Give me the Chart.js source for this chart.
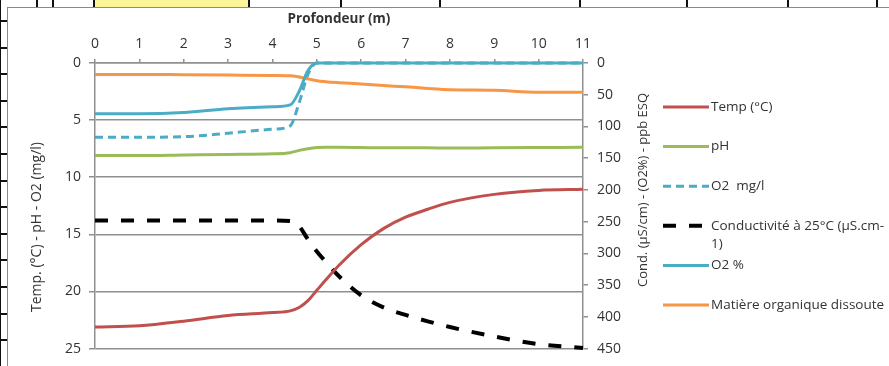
<!DOCTYPE html>
<html>
<head>
<meta charset="utf-8">
<script src="https://cdn.jsdelivr.net/npm/chart.js@4"></script>
<style>
  body { margin: 0; background: #fff; }
  #wrap { position: relative; width: 889px; height: 366px; overflow: hidden; background: #fff; }
  #chart { position: absolute; left: 0; top: 0; }
  .v { position: absolute; top: 0; height: 7px; width: 2px; background: #111; }
  .h { position: absolute; left: 0; width: 7px; height: 2px; background: #111; }
</style>
</head>
<body>
<div id="wrap">
  <canvas id="chart" width="889" height="366"></canvas>
  <!-- bits of the spreadsheet around the chart -->
  <div style="position:absolute;left:93px;top:0;width:155px;height:7px;background:#fbf59a"></div>
  <div style="position:absolute;left:7px;top:7px;right:0;height:1px;background:#8a8a8a"></div>
  <div style="position:absolute;left:7px;top:7px;bottom:0;width:1px;background:#8a8a8a"></div>
  <div style="position:absolute;left:0;top:0;bottom:0;width:1px;background:#111"></div>
  <div id="strips"></div>
</div>
<script>
// depth (m) shared by every series
const depths = [0, 1, 2, 3, 4, 4.4, 4.6, 4.8, 5, 5.2, 5.5, 6, 6.5, 7, 7.5, 8, 9, 10, 11];

// left axis series
const temp = [23.1, 23.0, 22.6, 22.1, 21.85, 21.7, 21.4, 20.8, 19.9, 19.0, 17.7, 15.9, 14.5, 13.5, 12.8, 12.2, 11.5, 11.15, 11.05];
const ph = [8.1, 8.1, 8.05, 8.0, 7.95, 7.85, 7.65, 7.5, 7.4, 7.38, 7.38, 7.4, 7.42, 7.42, 7.42, 7.45, 7.42, 7.4, 7.38];
const o2mg = [6.5, 6.5, 6.45, 6.15, 5.8, 5.5, 3.5, 1.0, 0, 0, 0, 0, 0, 0, 0, 0, 0, 0, 0];

// right axis series
const conductivite = [248, 248, 248, 248, 248, 249, 257, 278, 297, 313, 336, 366, 385, 397, 407, 416, 431, 443, 449];
const o2pct = [80, 80, 78, 72, 69, 66, 45, 12, 0, 0, 0, 0, 0, 0, 0, 0, 0, 0, 0];
const matiere = [18, 18, 18.5, 19, 19.5, 20, 22, 25, 28, 29.5, 31, 33, 35.5, 37.5, 40, 42, 43, 46, 46];

const xTicks = { min: 0, max: 11, step: 1 };
const leftTicks = { min: 0, max: 25, step: 5 };
const rightTicks = { min: 0, max: 450, step: 50 };

const xTitle = 'Profondeur (m)';
const leftTitle = 'Temp. (°C) - pH - O2 (mg/l)';
const rightTitle = 'Cond. (µS/cm) - (O2%) - ppb ESQ';

// left strip ticks of the sheet
const strips = document.getElementById('strips');
for (let y = 20; y < 366; y += 26.6) {
  const d = document.createElement('div'); d.className = 'h'; d.style.top = Math.round(y) + 'px'; strips.appendChild(d);
}
[36, 52, 93, 248, 340, 439, 579, 686, 787, 876].forEach(x => {
  const d = document.createElement('div'); d.className = 'v'; d.style.left = x + 'px'; strips.appendChild(d);
});

const pts = vals => depths.map((d, i) => ({ x: d, y: vals[i] }));
const FONT = '"Open Sans", sans-serif';
const GRID = '#8f8f8f';
const TXT = '#333333';

function line(label, vals, color, axis, dash, width) {
  return {
    label: label,
    data: pts(vals),
    yAxisID: axis,
    borderColor: color,
    backgroundColor: color,
    borderWidth: width || 3,
    borderDash: dash || [],
    pointRadius: 0,
    cubicInterpolationMode: 'monotone',
    clip: false
  };
}

const sideText = {
  id: 'sideText',
  afterDraw(chart) {
    const ctx = chart.ctx;
    const area = chart.chartArea;
    ctx.save();
    ctx.fillStyle = TXT;
    ctx.textAlign = 'center';
    ctx.textBaseline = 'middle';
    ctx.font = '14px ' + FONT;
    ctx.translate(37, 227);
    ctx.rotate(-Math.PI / 2);
    ctx.fillText(leftTitle, 0, 0);
    ctx.restore();

    ctx.save();
    ctx.fillStyle = TXT;
    ctx.textAlign = 'center';
    ctx.textBaseline = 'middle';
    ctx.font = '13px ' + FONT;
    ctx.translate(area.right + 60, 190);
    ctx.rotate(-Math.PI / 2);
    ctx.fillText(rightTitle, 0, 0);
    ctx.restore();

    // legend
    ctx.save();
    chart.data.datasets.forEach((ds, i) => {
      const y = 107 + i * 39.6;
      ctx.beginPath();
      ctx.setLineDash(ds.borderDash);
      ctx.strokeStyle = ds.borderColor;
      ctx.lineWidth = ds.borderWidth;
      ctx.moveTo(663, y);
      ctx.lineTo(709, y);
      ctx.stroke();
      ctx.setLineDash([]);
      ctx.fillStyle = TXT;
      ctx.font = '13.5px ' + FONT;
      ctx.textAlign = 'left';
      ctx.textBaseline = 'middle';
      const parts = Array.isArray(ds.label) ? ds.label : [ds.label];
      parts.forEach((t, k) => ctx.fillText(t, 711, y + k * 18));
    });
    ctx.restore();
  }
};

new Chart(document.getElementById('chart'), {
  type: 'line',
  data: {
    datasets: [
      line('Temp (°C)', temp, '#c0504d', 'y'),
      line('pH', ph, '#9bbb59', 'y'),
      line('O2  mg/l', o2mg, '#4bacc6', 'y', [8, 5]),
      line(['Conductivité à 25°C (µS.cm-', '1)'], conductivite, '#000000', 'y1', [13, 13], 4),
      line('O2 %', o2pct, '#4bacc6', 'y1'),
      line('Matière organique dissoute', matiere, '#f79646', 'y1')
    ]
  },
  options: {
    responsive: false,
    animation: false,
    devicePixelRatio: 1,
    layout: { padding: { left: 0, top: 0, right: 236, bottom: 15 } },
    plugins: { legend: { display: false }, tooltip: { enabled: false } },
    scales: {
      x: {
        type: 'linear',
        position: 'top',
        min: xTicks.min,
        max: xTicks.max,
        ticks: { stepSize: xTicks.step, color: TXT, font: { family: FONT, size: 14 }, padding: 7 },
        grid: { drawOnChartArea: false, color: GRID, lineWidth: 1.5, tickLength: 4 },
        border: { color: GRID, width: 1.5 },
        title: { display: true, text: xTitle, color: TXT, font: { family: FONT, size: 13.5, weight: 'bold' }, padding: { top: 11, bottom: 0 } },
        afterFit: s => { s.height = 63; }
      },
      y: {
        position: 'left',
        reverse: true,
        min: leftTicks.min,
        max: leftTicks.max,
        ticks: { stepSize: leftTicks.step, color: TXT, font: { family: FONT, size: 14 }, padding: 8 },
        grid: { color: GRID, lineWidth: 1.5, tickLength: 6 },
        border: { color: GRID, width: 1.5 },
        afterFit: s => { s.width = 95; }
      },
      y1: {
        position: 'right',
        reverse: true,
        min: rightTicks.min,
        max: rightTicks.max,
        ticks: { stepSize: rightTicks.step, color: TXT, font: { family: FONT, size: 14 }, padding: 9 },
        grid: { drawOnChartArea: false, color: GRID, lineWidth: 1.5, tickLength: 5 },
        border: { color: GRID, width: 1.5 },
        afterFit: s => { s.width = 70; }
      }
    }
  },
  plugins: [sideText]
});
</script>
</body>
</html>
